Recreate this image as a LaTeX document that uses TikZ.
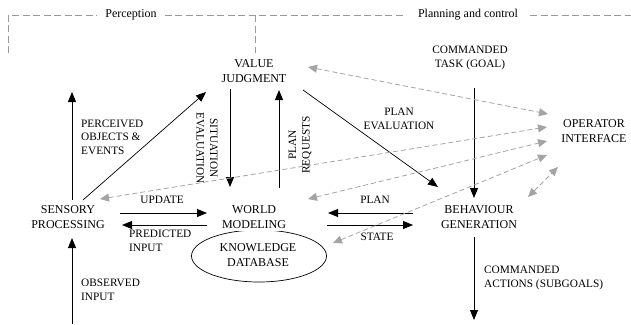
\documentclass[tikz,border=0pt]{standalone}
\usepackage{fontspec}
\setmainfont{Liberation Serif}
\usetikzlibrary{arrows.meta,shapes.geometric}
\definecolor{dgray}{HTML}{A4A4A4}
\definecolor{rgray}{HTML}{9A9A9A}
\tikzset{
  box/.style={font=\fontsize{12}{14.5}\selectfont, align=center, inner sep=1pt},
  lbl/.style={font=\fontsize{11.3}{13.5}\selectfont, align=center, inner sep=0pt},
  lbll/.style={lbl, align=left, anchor=west},
  blk/.style={draw=black, line width=0.9pt, -{Triangle[length=10pt,width=8pt]}},
  thin/.style={draw=black, line width=0.7pt, -{Triangle[length=10pt,width=8pt]}},
  gda/.style={draw=dgray, line width=0.8pt, dash pattern=on 5pt off 3pt,
     {Triangle[length=9pt,width=8pt]}-{Triangle[length=9pt,width=8pt]}},
  region/.style={draw=rgray, line width=0.6pt, dash pattern=on 7pt off 3.5pt},
}
\begin{document}
\begin{tikzpicture}[x=1pt,y=-1pt]
\useasboundingbox (0,0) rectangle (631,324);
% region headers
\node[lbl, font=\fontsize{12}{14}\selectfont, inner xsep=8pt] (perc) at (131,15) {Perception};
\node[lbl, font=\fontsize{12}{14}\selectfont, inner xsep=12pt] (planc) at (468,15) {Planning and control};
\coordinate (rl0) at (8,53);
\coordinate (rl1) at (8,15);
\coordinate (rm0) at (255,15);
\coordinate (rm1) at (255,53);
\coordinate (rr) at (631,15);
\draw[region] (rl0) -- (rl1) -- (perc.west);
\draw[region] (perc.east) -- (planc.west);
\draw[region] (planc.east) -- (rr);
\draw[region] (rm0) -- (rm1);

% knowledge database ellipse (under world modeling)
\node[ellipse, draw, line width=0.7pt, minimum width=135pt, minimum height=52pt, inner sep=0pt] (kde) at (259,256) {};
\node[box] (kd) at (258,255) {KNOWLEDGE\\DATABASE};

% main nodes
\node[box] (vj) at (254,71) {VALUE\\JUDGMENT};
\node[box] (sp) at (68,217) {SENSORY\\PROCESSING};
\node[box, fill=white, inner ysep=3pt, inner xsep=6pt] (wm) at (254,217) {WORLD\\MODELING};
\node[box] (bg) at (479,217) {BEHAVIOUR\\GENERATION};
\node[box] (oi) at (594,131) {OPERATOR\\INTERFACE};
\node[lbl] (ct) at (470,58) {COMMANDED\\TASK (GOAL)};

% labels
\node[lbll] (poe) at (81,137) {PERCEIVED\\OBJECTS \&\\EVENTS};
\node[lbl, rotate=-90] (se) at (207,148) {SITUATION\\EVALUATION};
\node[lbl, rotate=90] (pr) at (300,145) {PLAN\\REQUESTS};
\node[lbl] (pe) at (399,119) {PLAN\\EVALUATION};
\node[lbl] (upd) at (162,200) {UPDATE};
\node[lbll] (pi) at (129,241) {PREDICTED\\INPUT};
\node[lbl] (pl) at (375,200) {PLAN};
\node[lbl] (st) at (377,237) {STATE};
\node[lbll] (oin) at (81,290) {OBSERVED\\INPUT};
\node[lbll] (ca) at (484,278) {COMMANDED\\ACTIONS (SUBGOALS)};

% coordinates
\coordinate (spU0) at (72,200);  \coordinate (spU1) at (72,92);
\coordinate (spD0) at (83,200);  \coordinate (vjL) at (206,92);
\coordinate (vjD0) at (230,89);  \coordinate (wmT) at (230,187);
\coordinate (wmU0) at (279,188); \coordinate (vjU) at (279,90);
\coordinate (vjR) at (303,90);   \coordinate (bgT) at (438,187);
\coordinate (up0) at (120,213);  \coordinate (up1) at (207,213);
\coordinate (pi0) at (207,225);  \coordinate (pi1) at (122,225);
\coordinate (ob0) at (72,324);   \coordinate (ob1) at (72,238);
\coordinate (pl0) at (413,213);  \coordinate (pl1) at (328,213);
\coordinate (st0) at (327,225);  \coordinate (st1) at (413,225);
\coordinate (ct0) at (474,88);   \coordinate (ct1) at (474,198);
\coordinate (ca0) at (474,237);  \coordinate (ca1) at (474,320);

\draw[blk] (spU0) -- (spU1);
\draw[thin] (spD0) -- (vjL);
\draw[blk] (vjD0) -- (wmT);
\draw[blk] (wmU0) -- (vjU);
\draw[thin] (vjR) -- (bgT);
\draw[blk] (up0) -- (up1);
\draw[blk] (pi0) -- (pi1);
\draw[blk] (ob0) -- (ob1);
\draw[blk] (pl0) -- (pl1);
\draw[blk] (st0) -- (st1);
\draw[blk] (ct0) -- (ct1);
\draw[blk] (ca0) -- (ca1);

% gray dashed links with operator interface
\coordinate (g1a) at (308,67);  \coordinate (g1b) at (548,114);
\coordinate (g2a) at (100,199); \coordinate (g2b) at (547,127);
\coordinate (g3a) at (308,199); \coordinate (g3b) at (547,141);
\coordinate (g4a) at (333,243); \coordinate (g4b) at (547,155);
\coordinate (g5a) at (528,197); \coordinate (g5b) at (558,167);
\draw[gda] (g1a) -- (g1b);
\draw[gda] (g2a) -- (g2b);
\draw[gda] (g3a) -- (g3b);
\draw[gda] (g4a) -- (g4b);
\draw[gda] (g5a) -- (g5b);
\end{tikzpicture}
\end{document}
